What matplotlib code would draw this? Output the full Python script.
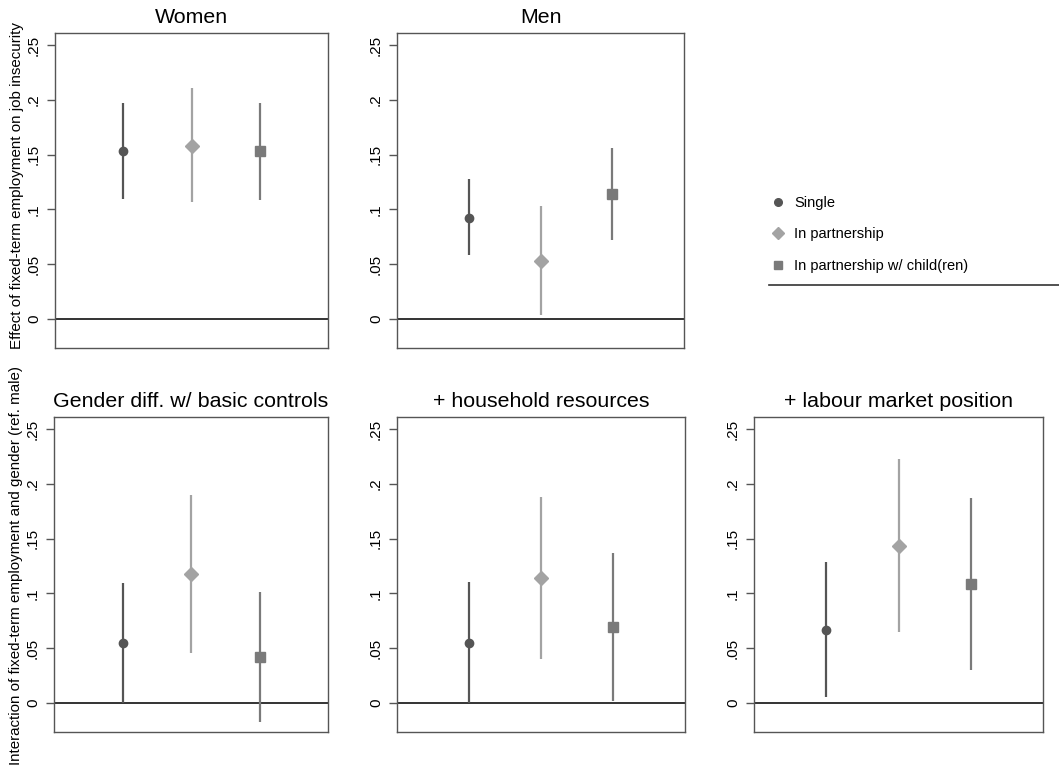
import matplotlib
matplotlib.use("Agg")
import matplotlib.pyplot as plt
from matplotlib.lines import Line2D

plt.rcParams['font.family'] = ['Liberation Sans', 'DejaVu Sans']

groups = ["Single", "In partnership", "In partnership w/ child(ren)"]
xpos = [1, 2, 3]

panel_titles = ["Women", "Men", "Gender diff. w/ basic controls",
                "+ household resources", "+ labour market position"]

# point estimates
est_women = [0.153, 0.158, 0.153]
est_men = [0.0925, 0.053, 0.114]
est_basic = [0.055, 0.1174, 0.042]
est_household = [0.055, 0.1137, 0.069]
est_labour = [0.0669, 0.1432, 0.1086]

# lower CI
lo_women = [0.1095, 0.107, 0.109]
lo_men = [0.058, 0.0036, 0.072]
lo_basic = [0.0, 0.0456, -0.017]
lo_household = [0.0, 0.040, 0.0015]
lo_labour = [0.0055, 0.065, 0.030]

# upper CI
hi_women = [0.197, 0.2105, 0.197]
hi_men = [0.1277, 0.103, 0.156]
hi_basic = [0.1098, 0.1895, 0.1013]
hi_household = [0.110, 0.1877, 0.137]
hi_labour = [0.129, 0.223, 0.1873]

yticks = [0, 0.05, 0.1, 0.15, 0.2, 0.25]
ytick_labels = ["0", ".05", ".1", ".15", ".2", ".25"]

colors = ["#555555", "#a3a3a3", "#7a7a7a"]
markers = ["o", "D", "s"]
msizes = [6, 7, 6.5]

W, H = 1059, 774
fig = plt.figure(figsize=(W / 100, H / 100), dpi=100)

def px_axes(x0, x1, y0, y1):
    return fig.add_axes([x0 / W, (H - y1) / H, (x1 - x0) / W, (y1 - y0) / H])

boxes = [(55, 328, 33, 348), (397, 684, 33, 348),
         (54, 328, 417, 732), (397, 685, 417, 732), (754, 1043, 417, 732)]
ests = [est_women, est_men, est_basic, est_household, est_labour]
los = [lo_women, lo_men, lo_basic, lo_household, lo_labour]
his = [hi_women, hi_men, hi_basic, hi_household, hi_labour]

for i, (box, title, est, lo, hi) in enumerate(zip(boxes, panel_titles, ests, los, his)):
    ax = px_axes(*box)
    ax.axhline(0, color="#333333", lw=1.4, zorder=1)
    for j in range(3):
        ax.vlines(xpos[j], lo[j], hi[j], color=colors[j], lw=1.6, zorder=2)
        ax.plot(xpos[j], est[j], marker=markers[j], ms=msizes[j], color=colors[j],
                mec=colors[j], ls="none", zorder=3)
    ax.set_xlim(0, 4)
    ax.set_ylim(-0.0265, 0.261)
    ax.set_xticks([])
    ax.set_yticks(yticks)
    ax.set_yticklabels(ytick_labels, rotation=90, va="center", fontsize=11)
    ax.tick_params(axis="y", length=6, width=1, color="#555555", pad=4)
    for s in ax.spines.values():
        s.set_color("#555555")
        s.set_linewidth(1.0)
    ax.set_title(title, fontsize=15.4, pad=7)
    if i == 0:
        ax.set_ylabel("Effect of fixed-term employment on job insecurity", fontsize=10.9)
        ax.yaxis.set_label_coords(-0.112, 0.517)
    if i == 2:
        ax.set_ylabel("Interaction of fixed-term employment and gender (ref. male)", fontsize=10.9)
        ax.yaxis.set_label_coords(-0.112, 0.53)

# legend
handles = [Line2D([], [], marker=markers[j], ms=msizes[j] - 0.5, color=colors[j],
                  ls="none") for j in range(3)]
fig.legend(handles, groups, loc="upper left", bbox_to_anchor=(765 / W, (H - 190) / H),
           frameon=False, fontsize=10.5, labelspacing=1.2, handletextpad=0.6,
           handlelength=1.0, borderaxespad=0)
fig.add_artist(Line2D([769 / W, 1.0], [(H - 285) / H, (H - 285) / H],
                      transform=fig.transFigure, color="#333333", lw=1.2))

fig.savefig("out.png", dpi=100, facecolor="white")
